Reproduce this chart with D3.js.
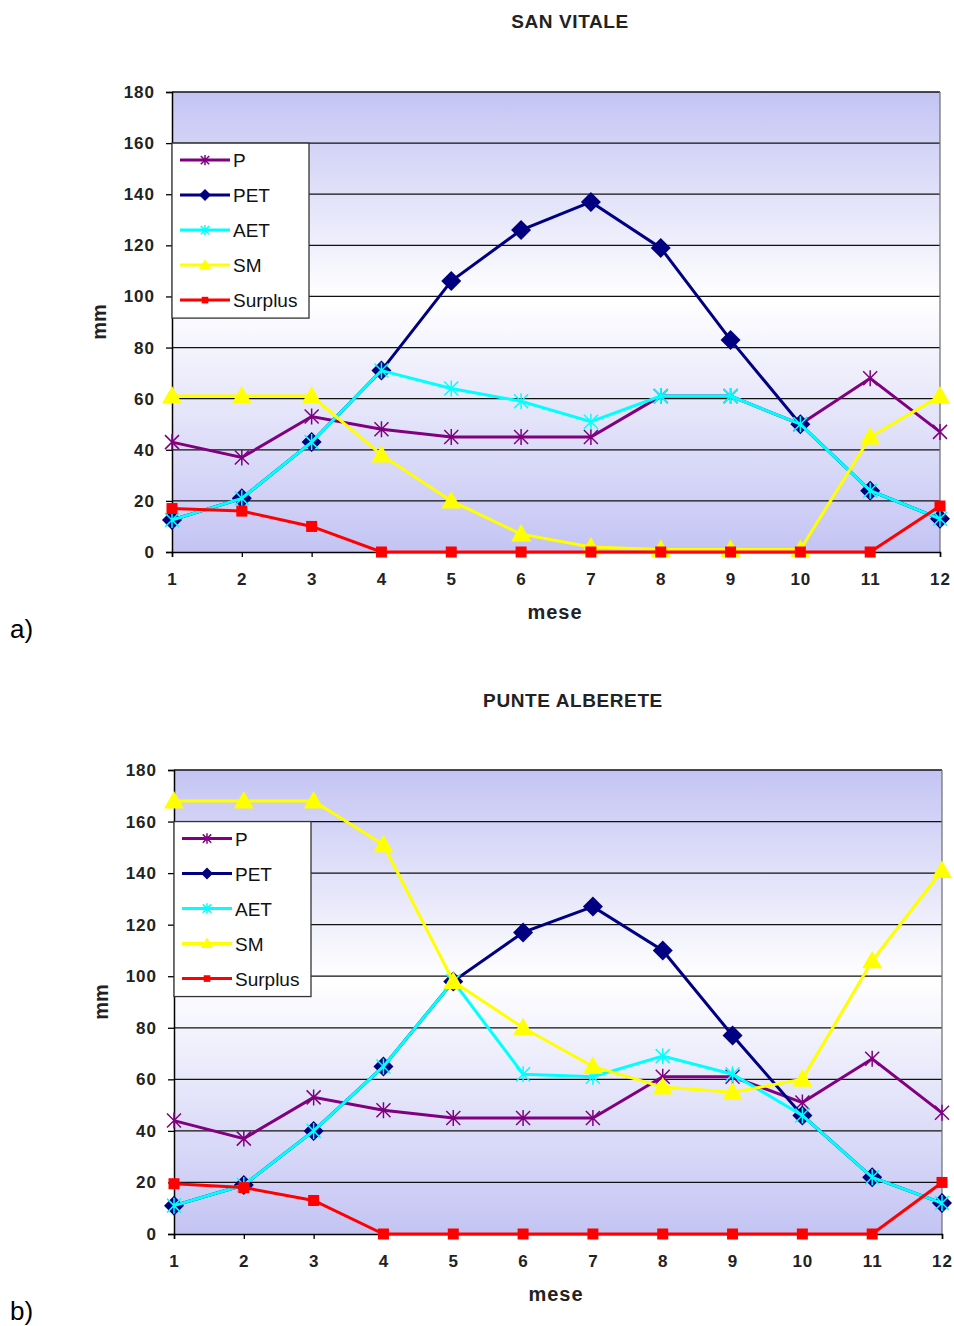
<!DOCTYPE html>
<html>
<head>
<meta charset="utf-8">
<script src="https://cdn.jsdelivr.net/npm/d3@7"></script>
<style>
  body { margin: 0; background: #fff; }
  svg text { font-family: "Liberation Sans", Arial, sans-serif; }
</style>
</head>
<body>
<svg id="chart" width="954" height="1326"></svg>
<script>
const months = [1, 2, 3, 4, 5, 6, 7, 8, 9, 10, 11, 12];
const yTicks = [0, 20, 40, 60, 80, 100, 120, 140, 160, 180];
const seriesNames = ["P", "PET", "AET", "SM", "Surplus"];

// San Vitale
const svP = [43, 37, 53, 48, 45, 45, 45, 61, 61, 50, 68, 47];
const svPET = [12.5, 21, 43, 71, 106, 126, 137, 119, 83, 50, 24, 13];
const svAET = [12.5, 21, 43, 71, 64, 59, 51, 61, 61, 50, 24, 13];
const svSM = [61, 61, 61, 38, 20, 7, 2, 1, 1, 1, 45, 61];
const svSurplus = [17, 16, 10, 0, 0, 0, 0, 0, 0, 0, 0, 18];

// Punte Alberete
const paP = [44, 37, 53, 48, 45, 45, 45, 61, 61, 51, 68, 47];
const paPET = [11, 19, 40, 65, 98, 117, 127, 110, 77, 46, 22, 12];
const paAET = [11, 19, 40, 65, 98, 62, 61, 69, 62, 46, 22, 12];
const paSM = [168, 168, 168, 151, 98, 80, 65, 57, 55, 60, 106, 141];
const paSurplus = [19.5, 18, 13, 0, 0, 0, 0, 0, 0, 0, 0, 20];

const styles = {
  P:       { color: "#800080", marker: "star" },
  PET:     { color: "#000080", marker: "diamond" },
  AET:     { color: "#00ffff", marker: "star" },
  SM:      { color: "#ffff00", marker: "triangle" },
  Surplus: { color: "#ff0000", marker: "square" }
};

const svg = d3.select("#chart");
const defs = svg.append("defs");
const grad = defs.append("linearGradient")
  .attr("id", "bg").attr("x1", 0).attr("y1", 0).attr("x2", 0).attr("y2", 1);
grad.append("stop").attr("offset", "0%").attr("stop-color", "#c4c4f4");
grad.append("stop").attr("offset", "45%").attr("stop-color", "#ffffff");
grad.append("stop").attr("offset", "100%").attr("stop-color", "#c4c4f4");

// s = marker scale (1 in the plot, smaller in the legend)
function drawMarker(g, type, color, x, y, s) {
  if (type === "star") {
    const r = 7 * s;
    g.append("path")
      .attr("d", `M${x - r},${y - r}L${x + r},${y + r}M${x - r},${y + r}L${x + r},${y - r}M${x},${y - r - 1}L${x},${y + r + 1}`)
      .attr("stroke", color).attr("stroke-width", 1.5).attr("fill", "none");
  } else if (type === "diamond") {
    const r = 10 * s;
    g.append("path")
      .attr("d", `M${x},${y - r}L${x + r},${y}L${x},${y + r}L${x - r},${y}Z`)
      .attr("fill", color);
  } else if (type === "triangle") {
    const r = 10 * s;
    g.append("path")
      .attr("d", `M${x},${y - r}L${x + r},${y + r * 0.75}L${x - r},${y + r * 0.75}Z`)
      .attr("fill", color);
  } else if (type === "square") {
    const r = 5.5 * s;
    g.append("rect").attr("x", x - r).attr("y", y - r)
      .attr("width", 2 * r).attr("height", 2 * r).attr("fill", color);
  }
}

function drawChart(cfg) {
  const g = svg.append("g");
  const x = d3.scaleLinear().domain([1, 12]).range([cfg.left, cfg.right]);
  const y = d3.scaleLinear().domain([0, 180]).range([cfg.bottom, cfg.top]);

  g.append("rect")
    .attr("x", cfg.left).attr("y", cfg.top)
    .attr("width", cfg.right - cfg.left).attr("height", cfg.bottom - cfg.top)
    .attr("fill", "url(#bg)");

  // gridlines
  g.selectAll(".grid").data(yTicks.slice(1)).join("line")
    .attr("x1", cfg.left).attr("x2", cfg.right)
    .attr("y1", d => y(d)).attr("y2", d => y(d))
    .attr("stroke", "#111").attr("stroke-width", 1.3);
  g.append("line")
    .attr("x1", cfg.right).attr("x2", cfg.right)
    .attr("y1", cfg.top).attr("y2", cfg.bottom)
    .attr("stroke", "#777").attr("stroke-width", 1.3);

  // axes
  const yAxis = g.append("g").attr("transform", `translate(${cfg.left},0)`)
    .call(d3.axisLeft(y).tickValues(yTicks).tickSize(6).tickPadding(11));
  const xAxis = g.append("g").attr("transform", `translate(0,${cfg.bottom})`)
    .call(d3.axisBottom(x).tickValues(months).tickSize(5).tickPadding(16));
  [yAxis, xAxis].forEach(a => {
    a.select(".domain").attr("stroke", "#000").attr("stroke-width", 1.5);
    a.selectAll(".tick line").attr("stroke", "#000").attr("stroke-width", 1.3);
    a.selectAll(".tick text")
      .attr("font-family", "'Liberation Sans', Arial, sans-serif")
      .attr("font-size", 17).attr("font-weight", "bold")
      .attr("letter-spacing", 1).attr("fill", "#222");
  });

  // series
  cfg.series.forEach((vals, i) => {
    const st = styles[seriesNames[i]];
    const line = d3.line().x((d, j) => x(months[j])).y(d => y(d));
    g.append("path").datum(vals).attr("d", line)
      .attr("fill", "none").attr("stroke", st.color).attr("stroke-width", 3);
    vals.forEach((v, j) => drawMarker(g, st.marker, st.color, x(months[j]), y(v), 1));
  });

  // legend
  const lg = g.append("g");
  lg.append("rect")
    .attr("x", cfg.left).attr("y", y(160))
    .attr("width", 137).attr("height", 175)
    .attr("fill", "#fff").attr("stroke", "#333").attr("stroke-width", 1.3);
  seriesNames.forEach((name, i) => {
    const st = styles[name];
    const ly = y(160) + 17 + i * 35;
    lg.append("line")
      .attr("x1", cfg.left + 8).attr("x2", cfg.left + 58)
      .attr("y1", ly).attr("y2", ly)
      .attr("stroke", st.color).attr("stroke-width", 3);
    drawMarker(lg, st.marker, st.color, cfg.left + 33, ly, 0.6);
    lg.append("text").attr("x", cfg.left + 61).attr("y", ly + 7)
      .attr("font-size", 19).attr("fill", "#111").text(name);
  });

  // titles
  g.append("text").attr("x", cfg.titleX).attr("y", cfg.titleY)
    .attr("text-anchor", "middle").attr("font-size", 19).attr("font-weight", "bold")
    .attr("letter-spacing", 0.6).attr("fill", "#222").text(cfg.title);
  g.append("text").attr("x", cfg.meseX).attr("y", cfg.bottom + 67)
    .attr("text-anchor", "middle").attr("font-size", 20).attr("font-weight", "bold")
    .attr("letter-spacing", 1).attr("fill", "#222").text("mese");
  g.append("text")
    .attr("transform", `translate(${cfg.left - 66},${(cfg.top + cfg.bottom) / 2}) rotate(-90)`)
    .attr("text-anchor", "middle").attr("font-size", 20).attr("font-weight", "bold")
    .attr("fill", "#222").text("mm");
  g.append("text").attr("x", 10).attr("y", cfg.bottom + 86)
    .attr("font-family", "'Liberation Serif', 'Times New Roman', serif")
    .attr("font-size", 26).attr("fill", "#000").text(cfg.label);
}

drawChart({
  left: 172, right: 940, top: 92, bottom: 552,
  title: "SAN VITALE", titleX: 570, titleY: 28, meseX: 555, label: "a)",
  series: [svP, svPET, svAET, svSM, svSurplus]
});
drawChart({
  left: 174, right: 942, top: 770, bottom: 1234,
  title: "PUNTE ALBERETE", titleX: 573, titleY: 707, meseX: 556, label: "b)",
  series: [paP, paPET, paAET, paSM, paSurplus]
});
</script>
</body>
</html>
